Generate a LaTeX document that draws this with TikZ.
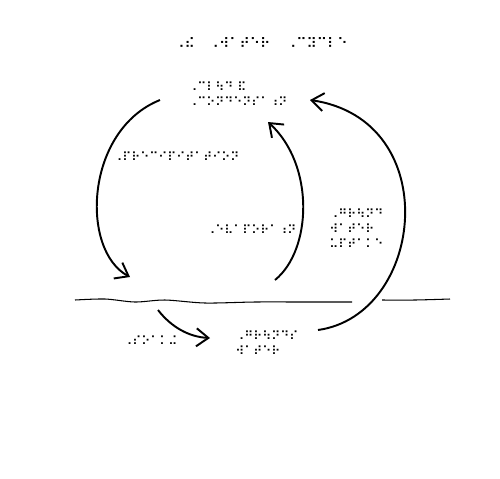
\documentclass[tikz,border=0pt]{standalone}
\usepackage{fontspec}
\newfontfamily\brl{DejaVu Sans}
\usetikzlibrary{arrows.meta,positioning}

\begin{document}
\begin{tikzpicture}[x=0.02cm,y=-0.02cm,>={Straight Barb[length=2.4mm,width=3.6mm]},
    lbl/.style={font=\brl\fontsize{7}{8.5}\selectfont,inner sep=0pt,align=left},
    flow/.style={->,line width=1.1pt}]
    \useasboundingbox (0,0) rectangle (500,478);
    % title
    \node[lbl,anchor=west,font=\brl\fontsize{8}{9}\selectfont] (title) at (174,43) {⠠⠮⠀\kern2pt⠠⠺⠁⠞⠑⠗⠀\kern3pt⠠⠉⠽⠉⠇⠑};
    % labels
    \node[lbl,anchor=west] (clouds) at (188,94) {⠠⠉⠇⠳⠙ ⠯\\⠠⠉⠕⠝⠙⠑⠝⠎⠁⠰⠝};
    \node[lbl,anchor=west] (precip) at (113,157) {⠠⠏⠗⠑⠉⠊⠏⠊⠞⠁⠞⠊⠕⠝};
    \node[lbl,anchor=west] (evap) at (206,230) {⠠⠑⠧⠁⠏⠕⠗⠁⠰⠝};
    \node[lbl,anchor=west] (runoff) at (329,229) {⠠⠛⠗⠳⠝⠙\\⠺⠁⠞⠑⠗\\⠥⠏⠞⠁⠅⠑};
    \node[lbl,anchor=west] (soak) at (123,341) {⠠⠎⠕⠁⠅⠬};
    \node[lbl,anchor=west] (ground) at (235,343) {⠠⠛⠗⠳⠝⠙⠎\\⠺⠁⠞⠑⠗};
    % ground surface
    \draw[line width=0.6pt] plot[smooth] coordinates {(75,300) (105,299) (135,302) (165,300) (205,303) (255,302) (305,302) (352,302)};
    \draw[line width=0.6pt] plot[smooth] coordinates {(382,300) (415,300) (450,299)};
    % arrow ends
    \coordinate (pa) at (160,100);
    \coordinate (pb) at (130,277);
    \coordinate (ea) at (275,280);
    \coordinate (eb) at (268,122);
    \coordinate (ra) at (318,330);
    \coordinate (rb) at (310,100);
    \coordinate (sa) at (158,310);
    \coordinate (sb) at (210,338);
    % cycle
    \draw[flow] (pa) .. controls (85,130) and (80,250) .. (pb);
    \draw[flow] (ea) .. controls (312,250) and (315,165) .. (eb);
    \draw[flow] (ra) .. controls (425,315) and (445,120) .. (rb);
    \draw[flow] (sa) .. controls (172,328) and (190,337) .. (sb);
\end{tikzpicture}
\end{document}
